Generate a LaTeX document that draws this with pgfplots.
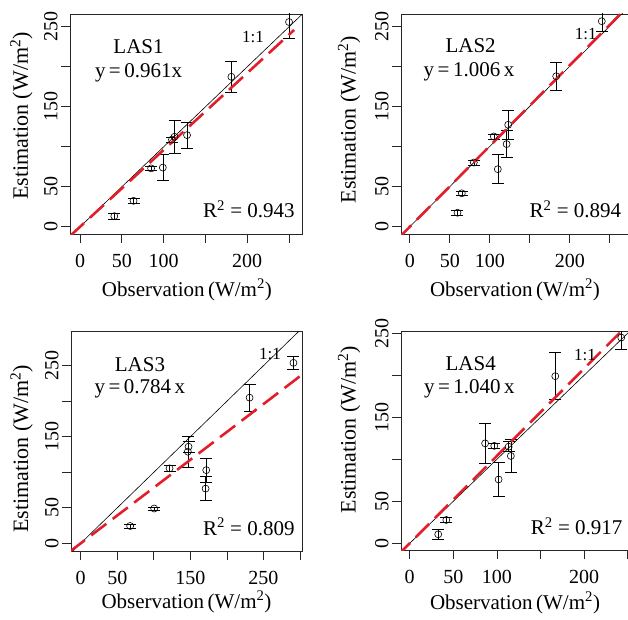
\documentclass[border=0pt]{standalone}
\usepackage{fontspec}
\setmainfont{Liberation Serif}
\usepackage{pgfplots}
\pgfplotsset{compat=1.18}
\definecolor{rdash}{RGB}{226,30,42}
\tikzset{
  lbltxt/.style={font=\fontsize{21}{24}\selectfont},
  lblsmall/.style={font=\fontsize{17}{19}\selectfont},
}
\pgfplotsset{
  rpanel/.style={
    scale only axis,
    axis line style={line width=0.7pt, black!85},
    tick style={line width=0.7pt, black!85},
    tick align=outside,
    tick pos=left,
    major tick length=9pt,
    /pgf/number format/assume math mode=true,
    tick label style={font=\fontsize{20}{24}\selectfont},
    yticklabel style={rotate=90, anchor=south},
    xticklabel style={yshift=-8pt},
    ytick={0,50,100,150,200,250},
    yticklabels={0,50,,150,,250},
    xlabel={Observation\,(W/m\textsuperscript{2})},
    ylabel={Estimation (W/m\textsuperscript{2})},
    xlabel style={font=\fontsize{21}{24}\selectfont, anchor=center},
    ylabel style={font=\fontsize{22}{24}\selectfont, anchor=center},
    clip=true,
  },
  pts/.style={only marks, mark=o, black, mark size=3.5pt, line width=0.6pt,
    error bars/.cd, y dir=both, y explicit,
    error bar style={line width=0.6pt, black},
    error mark options={rotate=90, mark size=6pt, line width=0.6pt, black}},
  oneone/.style={black, line width=0.6pt},
  fitline/.style={rdash, line width=2.6pt, dash pattern=on 19pt off 8pt},
}
\begin{document}
\begin{tikzpicture}
\path[use as bounding box] (0,0) rectangle (628pt,619pt);
% ---------------- LAS1 ----------------
\begin{axis}[rpanel, at={(70pt,385pt)}, anchor=south west, width=232pt, height=220pt,
  xmin=-12, xmax=265.5, ymin=-9, ymax=266,
  xtick={0,50,100,150,200,250}, xticklabels={0,50,100,,200,},
  xlabel style={at={(axis description cs:0.504,-0.255)}},
  ylabel style={at={(axis description cs:-0.21,0.536)}}]
\addplot[pts] table[x=x,y=y,y error=e] {
x y e
41 13.3 4
64 32.5 3
85 73 3
99 74 16
110 109 3
113 112.5 21
128 114.6 16
181 187.5 19
250 256 20
};
\addplot[oneone] coordinates {(-20,-20) (300,300)};
\addplot[fitline] coordinates {(-12,-11.53) (256,246.0)};
\node[lbltxt] at (axis cs:70,225) {LAS1};
\node[lbltxt] at (axis cs:70,193) {y\,=\,0.961x};
\node[lblsmall] at (axis cs:207,237) {1:1};
\node[lbltxt] at (axis cs:202,22) {R\textsuperscript{2} = 0.943};
\end{axis}
% ---------------- LAS2 ----------------
\begin{axis}[rpanel, at={(401pt,385pt)}, anchor=south west, width=228pt, height=220pt,
  xmin=-11, xmax=274, ymin=-9, ymax=265,
  xtick={0,50,100,150,200,250}, xticklabels={0,50,100,,200,},
  xlabel style={at={(axis description cs:0.5,-0.255)}},
  ylabel style={at={(axis description cs:-0.228,0.52)}}]
\addplot[pts] table[x=x,y=y,y error=e] {
x y e
59.6 17.5 3
65 41.7 3
80 80 3
105 112.5 3
110 71.7 18
121 103 17
123 127 18
183 187.5 17.5
240 256 13
};
\addplot[oneone] coordinates {(-20,-20) (300,300)};
\addplot[fitline] coordinates {(-15,-15.09) (280,281.7)};
\node[lbltxt] at (axis cs:76,225) {LAS2};
\node[lbltxt] at (axis cs:74,193) {y\,=\,1.006\,x};
\node[lblsmall] at (axis cs:220,240) {1:1};
\node[lbltxt] at (axis cs:207,22) {R\textsuperscript{2} = 0.894};
\end{axis}
% ---------------- LAS3 ----------------
\begin{axis}[rpanel, at={(71pt,68pt)}, anchor=south west, width=231pt, height=220pt,
  xmin=-13.3, xmax=302.7, ymin=-10.8, ymax=298.8,
  xtick={0,50,100,150,200,250,300}, xticklabels={0,50,,150,,250,},
  xlabel style={at={(axis description cs:0.5,-0.232)}},
  ylabel style={at={(axis description cs:-0.214,0.464)}}]
\addplot[pts] table[x=x,y=y,y error=e] {
x y e
67.6 24.4 3
100.5 49 2
121.5 105.5 4
147.5 136 8
146.5 129 22
171.7 103 17
170.8 77 17
231 205 19
291 254 9
};
\addplot[oneone] coordinates {(-20,-20) (320,320)};
\addplot[fitline] coordinates {(-15,-11.76) (310,243.04)};
\node[lbltxt] at (axis cs:81,251) {LAS3};
\node[lbltxt] at (axis cs:81,218) {y\,=\,0.784\,x};
\node[lblsmall] at (axis cs:259,267) {1:1};
\node[lbltxt] at (axis cs:230,23) {R\textsuperscript{2} = 0.809};
\end{axis}
% ---------------- LAS4 ----------------
\begin{axis}[rpanel, at={(401pt,69pt)}, anchor=south west, width=228pt, height=219pt,
  xmin=-10, xmax=251.6, ymin=-8, ymax=252.8,
  xtick={0,50,100,150,200,250}, xticklabels={0,50,100,,200,},
  xlabel style={at={(axis description cs:0.5,-0.242)}},
  ylabel style={at={(axis description cs:-0.228,0.55)}}]
\addplot[pts] table[x=x,y=y,y error=e] {
x y e
32.7 10.7 6
42 27.8 3
86.5 119 24
97 116 3
102 76 20
116 104 20
113.5 115 6
167 199 28
242.7 245 14
};
\addplot[oneone] coordinates {(-20,-20) (300,300)};
\addplot[fitline] coordinates {(-15,-15.6) (260,270.4)};
\node[lbltxt] at (axis cs:70,214) {LAS4};
\node[lbltxt] at (axis cs:68.5,184) {y\,=\,1.040\,x};
\node[lblsmall] at (axis cs:201,224) {1:1};
\node[lbltxt] at (axis cs:191.5,20) {R\textsuperscript{2} = 0.917};
\end{axis}
\end{tikzpicture}
\end{document}
